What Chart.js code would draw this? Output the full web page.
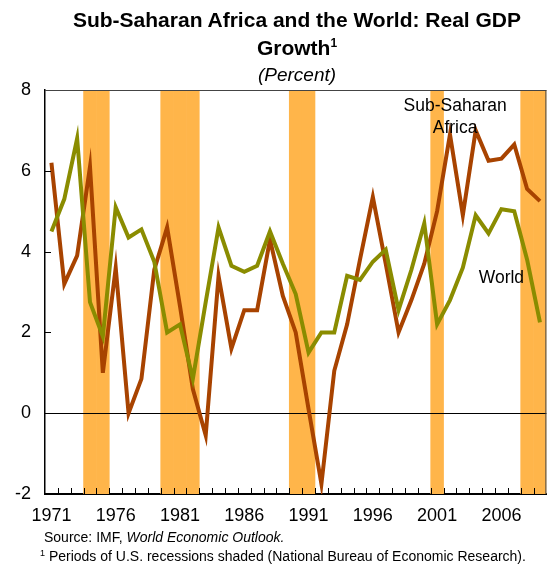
<!DOCTYPE html>
<html>
<head>
<meta charset="utf-8">
<script src="https://cdn.jsdelivr.net/npm/chart.js@4.4.1/dist/chart.umd.min.js"></script>
<style>
  body { margin: 0; background: #fff; font-family: "Liberation Sans", Arial, sans-serif; }
  #wrap { position: relative; width: 551px; height: 564px; }
  #gdp-chart { position: absolute; left: 0; top: 0; }
  .title { position: absolute; left: 45px; width: 504px; text-align: center; color: #000; line-height: 1.15; }
  .t1 { top: 8px; font-weight: bold; font-size: 21px; }
  .t2 { top: 36px; font-weight: bold; font-size: 21px; }
  .t2 sup { font-size: 12px; vertical-align: 8px; line-height: 0; }
  .t3 { top: 64px; font-style: italic; font-size: 19px; }
  .note { position: absolute; left: 44px; font-size: 14px; color: #000; white-space: nowrap; line-height: 1.15; }
  .n1 { top: 529px; }
  .n2 { top: 548px; left: 40px; }
  .n2 sup { font-size: 9px; vertical-align: 5px; line-height: 0; }
</style>
</head>
<body>
<div id="wrap">
  <canvas id="gdp-chart" width="551" height="564"></canvas>
  <div class="title t1">Sub-Saharan Africa and the World: Real GDP</div>
  <div class="title t2">Growth<sup>1</sup></div>
  <div class="title t3">(Percent)</div>
  <div class="note n1">Source: IMF, <i>World Economic Outlook.</i></div>
  <div class="note n2"><sup>1</sup> Periods of U.S. recessions shaded (National Bureau of Economic Research).</div>
</div>
<script>
const years = [];
for (let y = 1971; y <= 2009; y++) years.push(y);

const africa = [6.2, 3.2, 3.9, 6.1, 1.0, 3.6, 0.0, 0.85, 3.55, 4.6,
                2.65, 0.6, -0.55, 3.4, 1.6, 2.55, 2.55, 4.3, 2.9, 2.0,
                0.1, -1.75, 1.05, 2.2, 3.8, 5.35, 3.7, 2.0, 2.8, 3.7,
                5.0, 6.9, 4.9, 7.0, 6.25, 6.3, 6.65, 5.55, 5.25];

const world = [4.5, 5.3, 6.8, 2.75, 1.9, 5.1, 4.35, 4.55, 3.75, 2.0,
               2.2, 0.85, 2.75, 4.6, 3.65, 3.5, 3.65, 4.5, 3.7, 2.95,
               1.5, 2.0, 2.0, 3.4, 3.3, 3.75, 4.05, 2.55, 3.55, 4.7,
               2.2, 2.8, 3.6, 4.9, 4.45, 5.05, 5.0, 3.8, 2.25];

const recessionYears = [1974, 1975, 1980, 1981, 1982, 1990, 1991, 2001, 2008, 2009];

const yMin = -2, yMax = 8;

const recession = years.map(y => recessionYears.includes(y) ? [yMin, yMax] : null);

const FONT = '"Liberation Sans", Arial, sans-serif';

// frame, inward ticks, zero line and line labels
const decor = {
  id: 'decor',
  afterDatasetDraw(chart, args) {
    if (args.meta.type !== 'bar') return;
    const {ctx, chartArea: a, scales: {y}} = chart;
    const y0 = Math.round(y.getPixelForValue(0)) + 0.5;
    ctx.save();
    ctx.strokeStyle = '#000';
    ctx.lineWidth = 1;
    ctx.beginPath();
    ctx.moveTo(a.left, y0);
    ctx.lineTo(a.right, y0);
    ctx.stroke();
    ctx.restore();
  },
  afterDraw(chart) {
    const {ctx, chartArea: a, scales: {x, y}} = chart;
    ctx.save();
    ctx.strokeStyle = '#444';
    ctx.lineWidth = 1;
    ctx.beginPath();
    ctx.moveTo(a.left, a.top + 0.5);
    ctx.lineTo(a.right, a.top + 0.5);
    ctx.moveTo(a.right - 0.5, a.top);
    ctx.lineTo(a.right - 0.5, a.bottom);
    ctx.stroke();

    ctx.strokeStyle = '#000';
    ctx.beginPath();
    const half = (x.getPixelForValue(1) - x.getPixelForValue(0)) / 2;
    for (let i = 1; i < years.length; i++) {
      const px = Math.round(x.getPixelForValue(i) - half) + 0.5;
      ctx.moveTo(px, a.bottom);
      ctx.lineTo(px, a.bottom - 6);
    }
    for (let v = yMin + 2; v < yMax; v += 2) {
      const py = Math.round(y.getPixelForValue(v)) + 0.5;
      ctx.moveTo(a.left, py);
      ctx.lineTo(a.left + 6, py);
    }
    ctx.stroke();

    ctx.fillStyle = '#000';
    ctx.font = '17.5px ' + FONT;
    ctx.textAlign = 'center';
    ctx.textBaseline = 'middle';
    const lx = x.getPixelForValue(31.4);
    ctx.fillText('Sub-Saharan', lx, y.getPixelForValue(7.6));
    ctx.fillText('Africa', lx, y.getPixelForValue(7.05));
    ctx.fillText('World', x.getPixelForValue(35.0), y.getPixelForValue(3.33));
    ctx.restore();
  }
};

new Chart(document.getElementById('gdp-chart'), {
  type: 'line',
  data: {
    labels: years,
    datasets: [
      {
        type: 'line',
        label: 'World',
        data: world,
        borderColor: '#8a8c00',
        borderWidth: 4,
        pointRadius: 0,
        tension: 0,
        order: 1
      },
      {
        type: 'line',
        label: 'Sub-Saharan Africa',
        data: africa,
        borderColor: '#a84300',
        borderWidth: 4,
        pointRadius: 0,
        tension: 0,
        order: 2
      },
      {
        type: 'bar',
        label: 'U.S. recessions',
        data: recession,
        backgroundColor: '#ffb54a',
        borderWidth: 0,
        barPercentage: 1,
        categoryPercentage: 1,
        order: 3
      }
    ]
  },
  options: {
    responsive: false,
    animation: false,
    layout: { padding: { top: 90, right: 2, left: 0, bottom: 0 } },
    plugins: {
      legend: { display: false },
      tooltip: { enabled: false },
      title: { display: false }
    },
    scales: {
      x: {
        type: 'category',
        offset: true,
        grid: { display: false, drawTicks: false },
        border: { display: true, color: '#000', width: 2 },
        ticks: {
          autoSkip: false,
          maxRotation: 0,
          padding: 11,
          color: '#000',
          font: { family: FONT, size: 18 },
          callback: (v, i) => (years[i] - 1971) % 5 === 0 ? String(years[i]) : ''
        },
        afterFit: s => { s.height = 70; }
      },
      y: {
        min: yMin,
        max: yMax,
        grid: { display: false, drawTicks: false },
        border: { display: true, color: '#000', width: 1.5 },
        ticks: {
          stepSize: 2,
          padding: 14,
          color: '#000',
          font: { family: FONT, size: 18 }
        },
        afterFit: s => { s.width = 45; }
      }
    }
  },
  plugins: [decor]
});
</script>
</body>
</html>
